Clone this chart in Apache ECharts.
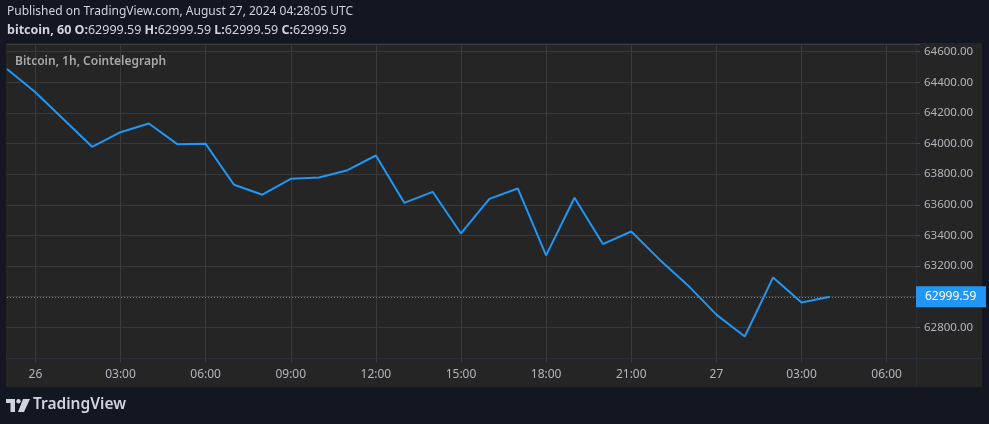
<!DOCTYPE html>
<html>
<head>
<meta charset="utf-8">
<script src="https://cdn.jsdelivr.net/npm/echarts@6/dist/echarts.min.js"></script>
<style>
html,body{margin:0;padding:0;background:#131722;}
#c{width:989px;height:424px;}
</style>
</head>
<body>
<div id="c"></div>
<script>
// Hourly categories: 25 Aug 23:00 -> 27 Aug 07:00
const categories = [
  '25 23:00','26 00:00','26 01:00','26 02:00','26 03:00','26 04:00','26 05:00','26 06:00',
  '26 07:00','26 08:00','26 09:00','26 10:00','26 11:00','26 12:00','26 13:00','26 14:00',
  '26 15:00','26 16:00','26 17:00','26 18:00','26 19:00','26 20:00','26 21:00','26 22:00',
  '26 23:00','27 00:00','27 01:00','27 02:00','27 03:00','27 04:00','27 05:00','27 06:00','27 07:00'
];
const prices = [
  64487, 64335, 64157, 63979, 64074, 64131, 63996, 63998,
  63731, 63666, 63770, 63778, 63826, 63922, 63613, 63685,
  63413, 63639, 63707, 63270, 63646, 63344, 63426, 63242,
  63074, 62883, 62740, 63126, 62963, 62999.59, null, null, null
];
const lastPrice = 62999.59;
const yTicks = [62800, 63000, 63200, 63400, 63600, 63800, 64000, 64200, 64400, 64600];

const chart = echarts.init(document.getElementById('c'), null, {renderer: 'canvas'});
const fontUI = '"Noto Sans", "Open Sans", Roboto, sans-serif';

function isLabelIdx(i) {
  const h = parseInt(categories[i].slice(3, 5), 10);
  return h % 3 === 0;
}
function xLabel(v) {
  const d = v.slice(0, 2), h = v.slice(3);
  return h === '00:00' ? d : h;
}

chart.setOption({
  backgroundColor: '#131722',
  animation: false,
  textStyle: {fontFamily: fontUI},
  graphic: [
    {type: 'rect', z: -10, shape: {x: 6, y: 43, width: 976, height: 344}, style: {fill: '#252525'}},
    {type: 'text', left: 7, top: 6, style: {text: 'Published on TradingView.com, August 27, 2024 04:28:05 UTC', fill: '#d1d4dc', font: '12px ' + fontUI}},
    {type: 'text', left: 7, top: 24, style: {
      text: '{b|bitcoin, 60 O:}{n|62999.59 }{b|H:}{n|62999.59 }{b|L:}{n|62999.59 }{b|C:}{n|62999.59}',
      rich: {
        b: {fill: '#d1d4dc', font: 'bold 12.5px ' + fontUI},
        n: {fill: '#d1d4dc', font: '12.5px ' + fontUI}
      }
    }},
    {type: 'text', left: 15, top: 56, z: 5, style: {text: 'Bitcoin, 1h, Cointelegraph', fill: '#a8a8a8', font: '600 12px ' + fontUI}},
    // separators
    {type: 'line', z: 3, shape: {x1: 916.5, y1: 43, x2: 916.5, y2: 387}, style: {stroke: '#2a2e39', lineWidth: 1}},
    {type: 'line', z: 3, shape: {x1: 6, y1: 358.5, x2: 982, y2: 358.5}, style: {stroke: '#2a2e39', lineWidth: 1}},
    // TradingView logo
    {type: 'polygon', shape: {points: [[6,399],[15,399],[15,412],[10.5,412],[10.5,403],[6,403]]}, style: {fill: '#d1d4dc'}},
    {type: 'circle', shape: {cx: 18.5, cy: 401.2, r: 2.2}, style: {fill: '#d1d4dc'}},
    {type: 'polygon', shape: {points: [[23,399],[30,399],[24,412],[18,412]]}, style: {fill: '#d1d4dc'}},
    {type: 'text', left: 33, top: 397, style: {text: 'TradingView', fill: '#d1d4dc', font: '600 15.5px ' + fontUI}}
  ],
  grid: {left: 7, right: 74, top: 44, bottom: 66, containLabel: false},
  xAxis: {
    type: 'category',
    data: categories,
    boundaryGap: false,
    axisLine: {show: false},
    axisTick: {show: true, interval: (i) => isLabelIdx(i), length: 4, lineStyle: {color: '#3c3c3c'}},
    axisLabel: {
      interval: (i) => isLabelIdx(i),
      formatter: xLabel,
      color: '#b2b5be', fontSize: 12, margin: 11, fontFamily: fontUI
    },
    splitLine: {show: true, interval: (i) => isLabelIdx(i), lineStyle: {color: '#3a3a3a', width: 1}}
  },
  yAxis: {
    type: 'value',
    position: 'right',
    min: 62600,
    max: 64650,
    interval: 200,
    axisLine: {show: false},
    axisTick: {show: true, length: 5, lineStyle: {color: '#4a4a4a'}},
    axisLabel: {
      margin: 9,
      color: '#b2b5be', fontSize: 11.5, fontFamily: fontUI,
      padding: [2, 0, 0, 0],
      formatter: (v) => yTicks.indexOf(v) >= 0 ? v.toFixed(2) : ''
    },
    splitLine: {show: true, lineStyle: {color: '#3a3a3a', width: 1}}
  },
  series: [{
    type: 'line',
    data: prices,
    showSymbol: false,
    symbol: 'none',
    connectNulls: false,
    lineStyle: {color: '#2196f3', width: 2},
    z: 4,
    markLine: {
      silent: true,
      symbol: ['none', 'none'],
      data: [{yAxis: lastPrice}],
      lineStyle: {color: '#2196f3', type: [1, 2], width: 1},
      label: {
        show: true,
        position: 'end',
        distance: 1,
        formatter: '62999.59',
        color: '#ffffff',
        backgroundColor: '#2196f3',
        fontSize: 12,
        fontFamily: fontUI,
        padding: [5, 8, 4, 9],
        width: 53,
        align: 'left'
      }
    }
  }]
});
</script>
</body>
</html>
